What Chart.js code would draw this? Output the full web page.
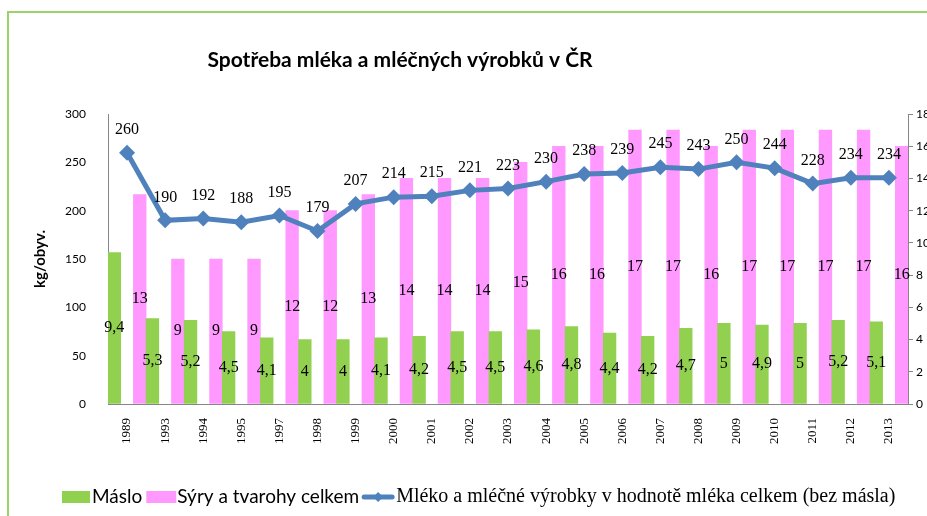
<!DOCTYPE html>
<html>
<head>
<meta charset="utf-8">
<script src="https://cdn.jsdelivr.net/npm/chart.js@4.4.1/dist/chart.umd.min.js"></script>
<style>
  html, body { margin: 0; padding: 0; background: #fff; }
  body { width: 927px; height: 516px; overflow: hidden; position: relative; }
  #frame { position: absolute; left: 7px; top: 11px; width: 960px; height: 520px;
           border-left: 2px solid #9bd36a; border-top: 2px solid #9bd36a; }
  #chart { position: absolute; left: 0; top: 0; }
</style>
</head>
<body>
<div id="frame"></div>
<canvas id="chart" width="960" height="516"></canvas>
<script>
// Data
const roky = ['1989', '1993', '1994', '1995', '1997', '1998', '1999', '2000', '2001', '2002',
  '2003', '2004', '2005', '2006', '2007', '2008', '2009', '2010', '2011', '2012', '2013'];
const maslo = [9.4, 5.3, 5.2, 4.5, 4.1, 4, 4, 4.1, 4.2, 4.5, 4.5, 4.6, 4.8, 4.4, 4.2, 4.7, 5, 4.9, 5, 5.2, 5.1];
const syry = [13, 9, 9, 9, 12, 12, 13, 14, 14, 14, 15, 16, 16, 17, 17, 16, 17, 17, 17, 17, 16];
const mleko = [260, 190, 192, 188, 195, 179, 207, 214, 215, 221, 223, 230, 238, 239, 245, 243, 250, 244, 228, 234, 234];
const levaOsaTicks = [0, 50, 100, 150, 200, 250, 300];
const pravaOsaTicks = [0, 2, 4, 6, 8, 10, 12, 14, 16, 18];

const TITULEK = 'Spotřeba mléka a mléčných výrobků v ČR';
const SERIF = '"Liberation Serif", "Times New Roman", serif';
const SANS = 'Lato, "Liberation Sans", sans-serif';

const ZELENA = '#92d050';
const RUZOVA = '#ff99ff';
const MODRA = '#4f81bd';

function fmt(v) {
  return String(v).replace('.', ',');
}

// popisky hodnot
const popiskyPlugin = {
  id: 'popisky',
  afterDatasetsDraw(chart) {
    const ctx = chart.ctx;
    ctx.save();
    ctx.fillStyle = '#000';
    ctx.textAlign = 'center';
    ctx.textBaseline = 'middle';
    ctx.font = '16px ' + SERIF;
    chart.data.datasets.forEach((ds, i) => {
      if (!ds.popisky) return;
      const meta = chart.getDatasetMeta(i);
      meta.data.forEach((el, j) => {
        const v = ds.data[j];
        if (v == null) return;
        if (ds.type === 'line') {
          ctx.fillText(fmt(v), el.x, el.y - 23);
        } else {
          ctx.fillText(fmt(v), el.x, (el.y + el.base) / 2);
        }
      });
    });
    ctx.restore();
  }
};

// titulek a legenda
const ramecekPlugin = {
  id: 'ramecek',
  afterDraw(chart) {
    const ctx = chart.ctx;
    ctx.save();
    ctx.fillStyle = '#000';
    ctx.textBaseline = 'middle';
    ctx.textAlign = 'center';
    ctx.font = 'bold 21px ' + SANS;
    ctx.fillText(TITULEK, 400, 60);

    // legenda
    ctx.textAlign = 'left';
    const y = 497;
    let x = 62;
    ctx.fillStyle = ZELENA;
    ctx.fillRect(x, y - 6, 28, 12);
    x += 30;
    ctx.fillStyle = '#000';
    ctx.font = '19px ' + SANS;
    ctx.fillText('Máslo', x, y);
    x += ctx.measureText('Máslo').width + 4;
    ctx.fillStyle = RUZOVA;
    ctx.fillRect(x, y - 6, 30, 12);
    x += 31;
    ctx.fillStyle = '#000';
    ctx.fillText('Sýry a tvarohy celkem', x, y);
    x += ctx.measureText('Sýry a tvarohy celkem').width + 3;
    ctx.strokeStyle = MODRA;
    ctx.lineWidth = 5;
    ctx.lineCap = 'round';
    ctx.beginPath();
    ctx.moveTo(x + 2, y);
    ctx.lineTo(x + 30, y);
    ctx.stroke();
    ctx.fillStyle = MODRA;
    ctx.beginPath();
    ctx.moveTo(x + 16, y - 5);
    ctx.lineTo(x + 21, y);
    ctx.lineTo(x + 16, y + 5);
    ctx.lineTo(x + 11, y);
    ctx.closePath();
    ctx.fill();
    x += 34;
    ctx.fillStyle = '#000';
    ctx.font = '20px ' + SERIF;
    ctx.fillText('Mléko a mléčné výrobky v hodnotě mléka celkem (bez másla)', x, y);
    ctx.restore();
  }
};

const ctx = document.getElementById('chart').getContext('2d');
new Chart(ctx, {
  data: {
    labels: roky,
    datasets: [
      {
        type: 'line',
        label: 'Mléko a mléčné výrobky v hodnotě mléka celkem (bez másla)',
        data: mleko,
        yAxisID: 'y',
        borderColor: MODRA,
        backgroundColor: MODRA,
        borderWidth: 5,
        pointStyle: 'rectRot',
        pointRadius: 8,
        pointBorderWidth: 0,
        tension: 0,
        order: 0,
        popisky: true
      },
      {
        type: 'bar',
        label: 'Máslo',
        data: maslo,
        yAxisID: 'y2',
        backgroundColor: ZELENA,
        order: 1,
        popisky: true
      },
      {
        type: 'bar',
        label: '',
        data: roky.map(() => null),
        yAxisID: 'y2',
        backgroundColor: 'transparent',
        order: 1
      },
      {
        type: 'bar',
        label: 'Sýry a tvarohy celkem',
        data: syry,
        yAxisID: 'y2',
        backgroundColor: RUZOVA,
        order: 1,
        popisky: true
      }
    ]
  },
  options: {
    responsive: false,
    animation: false,
    layout: { padding: { left: 14, right: 0, top: 114, bottom: 0 } },
    datasets: {
      bar: { categoryPercentage: 1, barPercentage: 1 }
    },
    plugins: {
      legend: { display: false },
      title: { display: false },
      tooltip: { enabled: false }
    },
    scales: {
      x: {
        grid: { display: false },
        border: { display: true, color: '#868686', width: 1 },
        ticks: {
          color: '#000',
          font: { family: SERIF, size: 13 },
          maxRotation: 90,
          minRotation: 90,
          autoSkip: false,
          padding: 6
        },
        afterFit: (s) => { s.height = 112; }
      },
      y: {
        position: 'left',
        min: 0,
        max: 300,
        afterBuildTicks: (s) => { s.ticks = levaOsaTicks.map(v => ({ value: v })); },
        grid: { display: false },
        border: { display: true, color: '#868686', width: 1 },
        ticks: {
          color: '#000',
          font: { family: SANS, size: 12 },
          padding: 14
        },
        title: {
          display: true,
          text: 'kg/obyv.',
          color: '#000',
          font: { family: SANS, size: 15, weight: 'bold' },
          padding: { top: 17, bottom: 0 }
        },
        afterFit: (s) => { s.width = 94; }
      },
      y2: {
        position: 'right',
        min: 0,
        max: 18,
        afterBuildTicks: (s) => { s.ticks = pravaOsaTicks.map(v => ({ value: v })); },
        grid: { display: true, drawOnChartArea: false, drawTicks: true, tickLength: 5, color: '#868686' },
        border: { display: true, color: '#868686', width: 1 },
        ticks: {
          color: '#000',
          font: { family: SANS, size: 12 },
          padding: 3
        },
        afterFit: (s) => { s.width = 52; }
      }
    }
  },
  plugins: [popiskyPlugin, ramecekPlugin]
});
</script>
</body>
</html>
